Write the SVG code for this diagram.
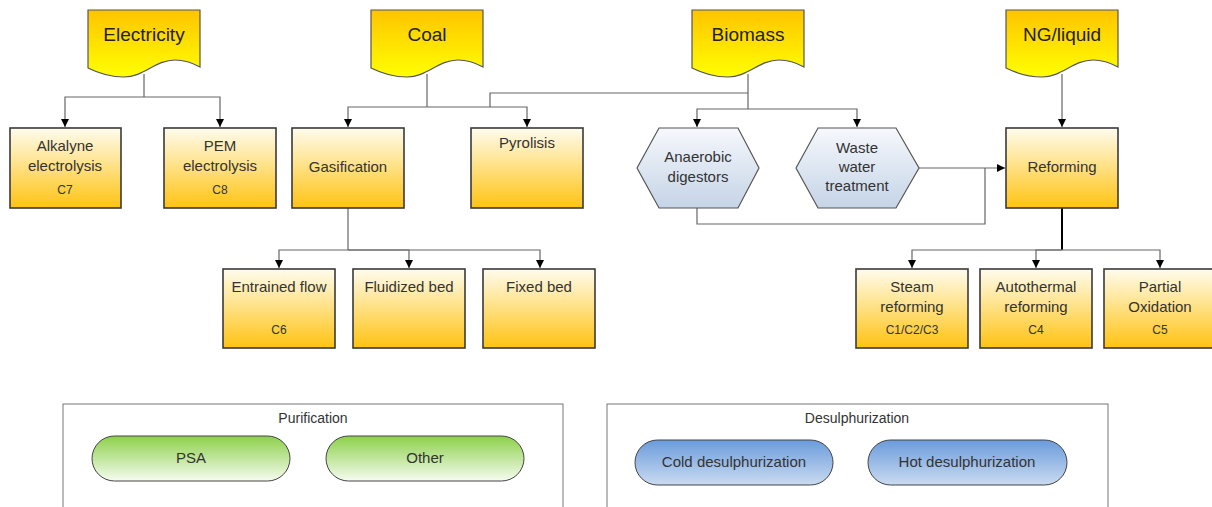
<svg xmlns="http://www.w3.org/2000/svg" width="1212" height="507" viewBox="0 0 1212 507">
<defs>
<linearGradient id="gDoc" x1="0" y1="0" x2="0" y2="1"><stop offset="0" stop-color="#FFC400"/><stop offset="1" stop-color="#FFFF00"/></linearGradient>
<linearGradient id="gBox" x1="0" y1="0" x2="0" y2="1"><stop offset="0" stop-color="#FFFCEE"/><stop offset="1" stop-color="#FFC312"/></linearGradient>
<linearGradient id="gHex" x1="0" y1="0" x2="0" y2="1"><stop offset="0" stop-color="#F6F8FC"/><stop offset="1" stop-color="#C5D4E7"/></linearGradient>
<linearGradient id="gGreen" x1="0" y1="0" x2="0" y2="1"><stop offset="0" stop-color="#8CD04A"/><stop offset="1" stop-color="#F6FCF0"/></linearGradient>
<linearGradient id="gBlue" x1="0" y1="0" x2="0" y2="1"><stop offset="0" stop-color="#6A9BDB"/><stop offset="1" stop-color="#CADBF1"/></linearGradient>
<path id="doc" d="M0,0 H112 V57 C103,52 95,50 87,50 C67,50 56,67 36,67 C22,67 10,63 0,58 Z"/>
<marker id="arr" viewBox="0 0 10 10" refX="10" refY="5" markerWidth="8" markerHeight="8" markerUnits="userSpaceOnUse" orient="auto"><path d="M0,0 L10,5 L0,10 Z" fill="#000"/></marker>
</defs>
<style>
text{font-family:"Liberation Sans",Arial,sans-serif;fill:#333;text-anchor:middle}
.doc{fill:url(#gDoc);stroke:#555;stroke-width:1.2}
.box{fill:url(#gBox);stroke:#3a3a3a;stroke-width:1.6}
.hex{fill:url(#gHex);stroke:#555;stroke-width:1.2}
.pg{fill:url(#gGreen);stroke:#444;stroke-width:1}
.pb{fill:url(#gBlue);stroke:#444;stroke-width:1}
.frame{fill:#fff;stroke:#777;stroke-width:1}
.t19{font-size:19px;fill:#222}
.t15{font-size:15px}
.t11{font-size:12px}
.t14{font-size:14px}
.c{fill:none;stroke:#666;stroke-width:1.2}
.ca{fill:none;stroke:#666;stroke-width:1.2;marker-end:url(#arr)}
</style>

<g id="connectors">
<path class="c" d="M144,74 V97"/>
<path class="ca" d="M144,97 H65 V127"/>
<path class="ca" d="M144,97 H220 V127"/>
<path class="c" d="M427,74 V107"/>
<path class="ca" d="M427,107 H348 V127"/>
<path class="ca" d="M427,107 H527 V127"/>
<path class="c" d="M748,74 V109"/>
<path class="c" d="M748,93 H490 V107"/>
<path class="ca" d="M748,109 H697 V127"/>
<path class="ca" d="M748,109 H857 V127"/>
<path class="ca" d="M1062,74 V127"/>
<path class="ca" d="M919,168 H1005"/>
<path class="c" d="M697,208 V224 H985 V168"/>
<path class="c" d="M348,208 V250"/>
<path class="ca" d="M348,250 H279 V268"/>
<path class="ca" d="M348,250 H409 V268"/>
<path class="ca" d="M348,250 H540 V268"/>
<path fill="none" stroke="#000" stroke-width="2" d="M1062,208 V250"/>
<path class="ca" d="M1062,250 H912 V268"/>
<path class="ca" d="M1062,250 H1036 V268"/>
<path class="ca" d="M1062,250 H1160 V268"/>
</g>

<g id="electricity"><use href="#doc" class="doc" x="88" y="10"/><text class="t19" x="144" y="41">Electricity</text></g>
<g id="coal"><use href="#doc" class="doc" x="371" y="10"/><text class="t19" x="427" y="41">Coal</text></g>
<g id="biomass"><use href="#doc" class="doc" x="692" y="10"/><text class="t19" x="748" y="41">Biomass</text></g>
<g id="ngliquid"><use href="#doc" class="doc" x="1006" y="10"/><text class="t19" x="1062" y="41">NG/liquid</text></g>

<g id="alkalyne"><rect class="box" x="10" y="128" width="111" height="80"/><text class="t15" x="65" y="151">Alkalyne</text><text class="t15" x="65" y="171">electrolysis</text><text class="t11" x="65" y="194">C7</text></g>
<g id="pem"><rect class="box" x="164" y="128" width="112" height="80"/><text class="t15" x="220" y="151">PEM</text><text class="t15" x="220" y="171">electrolysis</text><text class="t11" x="220" y="194">C8</text></g>
<g id="gasification"><rect class="box" x="292" y="128" width="112" height="80"/><text class="t15" x="348" y="172">Gasification</text></g>
<g id="pyrolisis"><rect class="box" x="471" y="128" width="112" height="80"/><text class="t15" x="527" y="148">Pyrolisis</text></g>
<g id="anaerobic"><polygon class="hex" points="637,168 659,128 738,128 759,168 738,208 659,208"/><text class="t15" x="698" y="162">Anaerobic</text><text class="t15" x="698" y="182">digestors</text></g>
<g id="wastewater"><polygon class="hex" points="796,168 818,128 896,128 919,168 896,208 818,208"/><text class="t15" x="857" y="153">Waste</text><text class="t15" x="857" y="172">water</text><text class="t15" x="857" y="191">treatment</text></g>
<g id="reforming"><rect class="box" x="1006" y="128" width="112" height="80"/><text class="t15" x="1062" y="172">Reforming</text></g>

<g id="entrained"><rect class="box" x="223" y="269" width="112" height="79"/><text class="t15" x="279" y="292">Entrained flow</text><text class="t11" x="279" y="334">C6</text></g>
<g id="fluidized"><rect class="box" x="353" y="269" width="112" height="79"/><text class="t15" x="409" y="292">Fluidized bed</text></g>
<g id="fixed"><rect class="box" x="483" y="269" width="112" height="79"/><text class="t15" x="539" y="292">Fixed bed</text></g>

<g id="steam"><rect class="box" x="856" y="269" width="112" height="79"/><text class="t15" x="912" y="292">Steam</text><text class="t15" x="912" y="312">reforming</text><text class="t11" x="912" y="334">C1/C2/C3</text></g>
<g id="autothermal"><rect class="box" x="980" y="269" width="112" height="79"/><text class="t15" x="1036" y="292">Autothermal</text><text class="t15" x="1036" y="312">reforming</text><text class="t11" x="1036" y="334">C4</text></g>
<g id="partial"><rect class="box" x="1104" y="269" width="112" height="79"/><text class="t15" x="1160" y="292">Partial</text><text class="t15" x="1160" y="312">Oxidation</text><text class="t11" x="1160" y="334">C5</text></g>

<g id="purification"><rect class="frame" x="63" y="404" width="500" height="110"/><text class="t14" x="313" y="423">Purification</text></g>
<g id="psa"><rect class="pg" x="92" y="436" width="198" height="45" rx="22.5"/><text class="t15" x="191" y="463">PSA</text></g>
<g id="other"><rect class="pg" x="326" y="436" width="198" height="45" rx="22.5"/><text class="t15" x="425" y="463">Other</text></g>

<g id="desulphurization"><rect class="frame" x="607" y="404" width="501" height="110"/><text class="t14" x="857" y="423">Desulphurization</text></g>
<g id="cold"><rect class="pb" x="635" y="440" width="198" height="45" rx="22.5"/><text class="t15" x="734" y="467">Cold desulphurization</text></g>
<g id="hot"><rect class="pb" x="868" y="440" width="199" height="45" rx="22.5"/><text class="t15" x="967" y="467">Hot desulphurization</text></g>
</svg>
